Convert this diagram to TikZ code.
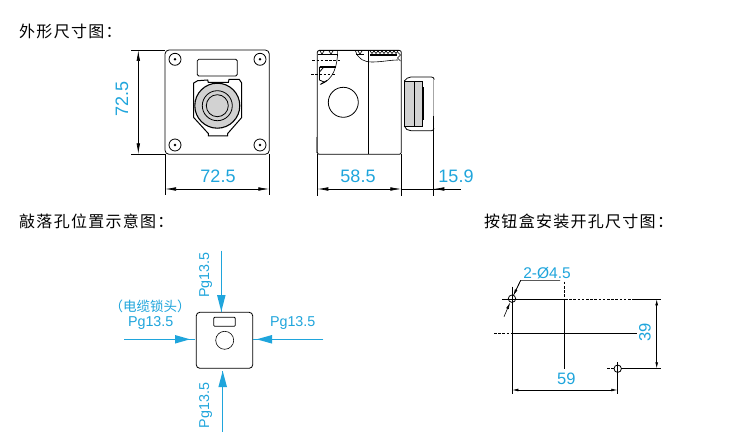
\documentclass[tikz,border=0pt]{standalone}
\usepackage{fontspec}
\setmainfont{Liberation Sans}
\newfontfamily\cjk[LetterSpace=8]{Noto Sans CJK SC}
\newfontfamily\cjkb{Noto Sans CJK SC}
\usetikzlibrary{arrows.meta}
\definecolor{dimblue}{HTML}{1FA5DC}
\definecolor{partgrey}{HTML}{D2D2D2}
\tikzset{
  ln/.style={draw=black,line width=0.8pt},
  thin ln/.style={draw=black,line width=0.6pt},
  dimline/.style={draw=black,line width=0.7pt},
  dimarrow/.style={draw=black,line width=0.7pt,{Latex[length=11pt,width=3.6pt]}-{Latex[length=11pt,width=3.6pt]}},
  dimarrowsm/.style={draw=black,line width=0.6pt,{Latex[length=6pt,width=2.8pt]}-{Latex[length=6pt,width=2.8pt]}},
  dashln/.style={draw=black,line width=0.7pt,dash pattern=on 2.6pt off 1.6pt},
  bigdim/.style={text=dimblue,font=\fontsize{18}{18}\selectfont,inner sep=0pt},
  middim/.style={text=dimblue,font=\fontsize{16.5}{17}\selectfont,inner sep=0pt},
  smalldim/.style={text=dimblue,font=\fontsize{14.3}{15}\selectfont,inner sep=0pt},
  titletext/.style={text=black,font=\cjk\fontsize{16}{17}\selectfont,inner sep=0pt,anchor=west},
  bluetip/.style={fill=dimblue,draw=none},
  blueline/.style={draw=dimblue,line width=0.8pt},
}
\newcommand{\screwmark}[1]{%
  \draw[ln] (#1) circle[radius=6];
  \fill (#1) circle[radius=1.4];}
\begin{document}
\begin{tikzpicture}[x=1pt,y=-1pt]
\useasboundingbox (0,0) rectangle (750,441);
\fill[white] (0,0) rectangle (750,441);
% titles
\node[titletext] (t1) at (19,31.5) {外形尺寸图：};
\node[titletext] (t2) at (19,221.5) {敲落孔位置示意图：};
\node[titletext] (t3) at (484,221.5) {按钮盒安装开孔尺寸图：};

% ---------- front view
\draw[ln,rounded corners=4pt] (165,50) rectangle (269.3,154.3);
\screwmark{175,59.3}
\screwmark{260,59.3}
\screwmark{175,145}
\screwmark{260,145}
\draw[ln,rounded corners=1.5pt] (197.3,59.3) rectangle (237.3,76);
\draw[ln,line width=1pt] (197.7,80.7) -- (207.7,80) -- (208.3,82.5) -- (228.3,82.5) -- (229,79.5) -- (239.3,79.5) -- (241.7,83) -- (241.7,117.5) -- (227.7,133.5) -- (227.7,136) -- (208.3,136) -- (208.3,133.5) -- (193.7,117.5) -- (193.7,83) -- cycle;
\fill[partgrey] (217.3,105.7) circle[radius=22.5];
\draw[line width=1.1pt] (217.3,105.7) circle[radius=22.5];
\draw[ln] (217.3,105.7) circle[radius=15];
\draw[ln] (217.3,105.7) circle[radius=11];
% front dimensions
\coordinate (fa) at (138.3,50);
\coordinate (fb) at (138.3,154.3);
\coordinate (fc) at (165,189);
\coordinate (fd) at (269.3,189);
\draw[dimline] (131,50) -- (165,50);
\draw[dimline] (131,154.3) -- (165,154.3);
\draw[dimline] (165,154.3) -- (165,195.5);
\draw[dimline] (269.3,154.3) -- (269.3,195.5);
\draw[dimarrow] (fa) -- (fb);
\draw[dimarrow] (fc) -- (fd);
\node[bigdim,rotate=90] (d1) at (122,99) {72.5};
\node[bigdim] (d2) at (218,176) {72.5};

% ---------- side view
\draw[ln,rounded corners=2pt] (317.3,50.4) -- (401.3,50.4) -- (401.3,154.3) -- (317.3,154.3) -- cycle;
\draw[ln] (368.3,50.4) -- (368.3,154.3);
\draw[ln] (343.3,102.3) circle[radius=15];
\draw[draw=gray,line width=1pt] (316.8,137) -- (316.8,153);
% side view top detail
\draw[thin ln] (337.7,50.7) .. controls (337.5,65) and (334,80) .. (320,84.5);
\draw[thin ln] (355.5,51) .. controls (358,59) and (364,62) .. (372,62) .. controls (382,62) and (390,60) .. (398,60);
\draw[line width=1.8pt] (319.5,66.7) -- (336,66.7);
\draw[line width=1.6pt] (370,55) -- (397,55);
\draw[line width=0.9pt] (317.5,54) -- (336.5,54);
\draw[line width=0.9pt] (356,54) -- (364,54);
\draw[line width=0.6pt] (320,51) -- (322,54) -- (324,51) (329,51) -- (331,54) -- (333,51) (358,51) -- (360,54) -- (362,51);
\draw[line width=0.6pt] (370,51) -- (372,53.5) -- (374,51) -- (376,53.5) -- (378,51) -- (380,53.5) -- (382,51) -- (384,53.5) -- (386,51) -- (388,53.5) -- (390,51) -- (392,53.5) -- (394,51) -- (396,53.5) -- (398,51);
\draw[line width=0.6pt] (397.5,52) -- (400.5,55) -- (397.5,58) -- (400.5,61);
\draw[line width=0.8pt] (319.5,67) -- (319.5,80) -- (324,82) (319.5,72) -- (323,68);
\draw[line width=1pt] (321,84) -- (327,80.5);
\draw[dashln] (312.3,60.3) -- (340,60.3);
\draw[dashln] (311,74.3) -- (336,74.3);
% button side
\fill[partgrey] (404.5,81.7) rectangle (422.3,126);
\draw[ln] (404.5,81.7) rectangle (422.3,126);
\draw[ln] (414,81.7) -- (414,126);
\draw[line width=1.6pt] (422.8,87) -- (422.8,120);
\draw[ln] (404.3,81) .. controls (406,78.5) and (408,77.3) .. (411,77) .. controls (420,77) and (428,77) .. (431.5,77) .. controls (433,77) and (434,78) .. (434.3,79.5);
\draw[ln] (404.3,126) .. controls (405,129) and (408,130.7) .. (411,130.7) -- (431.5,130.7) .. controls (433,130.7) and (433.8,129.5) .. (434,128.5);
\draw[draw=gray!70,line width=0.6pt] (433.6,79.5) -- (433.6,116);
% side dimensions
\coordinate (sa) at (317.3,189);
\coordinate (sb) at (401.3,189);
\coordinate (sc) at (433.3,189);
\coordinate (se) at (461,189);
\draw[dimline] (317.3,154.3) -- (317.3,196);
\draw[dimline] (401.3,154.3) -- (401.3,196);
\draw[dimline] (433.3,116) -- (433.3,196);
\draw[dimarrow] (sa) -- (sb);
\draw[dimline] (sb) -- (se);
\draw[draw=black,line width=0.7pt,{Latex[length=11pt,width=3.6pt]}-] (sc) -- (se);
\node[bigdim] (d3) at (358,176) {58.5};
\node[bigdim] (d4) at (456,176) {15.9};

% ---------- knock-out view
\draw[ln,rounded corners=3.5pt] (196.3,312.3) rectangle (252.7,368.3);
\draw[ln,rounded corners=1pt] (213.7,317.3) rectangle (235.3,326.3);
\draw[thin ln] (224.7,340.3) circle[radius=9];
\coordinate (ta) at (221.3,250.7);
\coordinate (tb) at (221.3,311.5);
\coordinate (ba) at (222.7,431.7);
\coordinate (bb) at (222.7,371);
\coordinate (la) at (124,339.3);
\coordinate (lb) at (195,339.3);
\coordinate (ra) at (323.3,339.3);
\coordinate (rb) at (253,339.3);
\draw[blueline] (ta) -- (tb);
\draw[blueline] (ba) -- (bb);
\draw[blueline] (la) -- (lb);
\draw[blueline] (ra) -- (rb);
\fill[bluetip] (221.3,311.5) -- (217,295) -- (225.6,295) -- cycle;
\fill[bluetip] (222.7,371) -- (218.4,387) -- (227,387) -- cycle;
\fill[bluetip] (190,339.3) -- (175,335) -- (175,343.6) -- cycle;
\fill[bluetip] (256.7,339.3) -- (272,335) -- (272,343.6) -- cycle;
\node[smalldim,rotate=90] (k1) at (205.5,275) {Pg13.5};
\node[smalldim,rotate=90] (k2) at (205.5,405.7) {Pg13.5};
\node[smalldim] (k3) at (150.7,323) {Pg13.5};
\node[smalldim] (k4) at (292.7,322.5) {Pg13.5};
\node[text=dimblue,inner sep=0pt,font=\cjkb\fontsize{13.5}{14}\selectfont] (k5) at (150,306) {（电缆锁头）};

% ---------- mounting view
\draw[ln] (512,298.7) circle[radius=3.7];
\draw[ln] (617.7,368.7) circle[radius=3.7];
\draw[dimline] (502.3,299.3) -- (565,299.3);
\draw[dashln] (565,299.3) -- (633,299.3);
\draw[dimline] (633,299.3) -- (661,299.3);
\draw[dashln] (607,368.3) -- (614,368.3);
\draw[dimline] (621,368.3) -- (661,368.3);
\draw[dashln] (494,333.3) -- (512,333.3);
\draw[dimline] (512,333.3) -- (636.7,333.3);
\draw[dashln] (564.7,281.7) -- (564.7,299.3);
\draw[dimline] (564.7,299.3) -- (564.7,369);
\draw[dimline] (512.3,286.7) -- (512.3,394);
\draw[dimline] (617.3,362) -- (617.3,394);
\coordinate (ma) at (512.3,390);
\coordinate (mb) at (617.3,390);
\coordinate (mc) at (656.7,299.3);
\coordinate (md) at (656.7,368.3);
\draw[dimarrowsm] (ma) -- (mb);
\draw[dimarrowsm] (mc) -- (md);
\draw[thin ln] (560,280.3) -- (520.7,280.3) -- (513.5,295.3);
\draw[thin ln,{Latex[length=7pt,width=2.8pt]}-] (510.2,302.2) -- (504,316.7);
\draw[thin ln,-{Latex[length=6pt,width=2.8pt]}] (520.7,280.3) -- (513.5,295.3);
\node[middim] (m1) at (566.3,379.3) {59};
\node[middim,rotate=90] (m2) at (645,332) {39};
\node[text=dimblue,inner sep=0pt,font=\fontsize{15.5}{16}\selectfont] (m3) at (547,273) {2-Ø4.5};
\end{tikzpicture}
\end{document}
